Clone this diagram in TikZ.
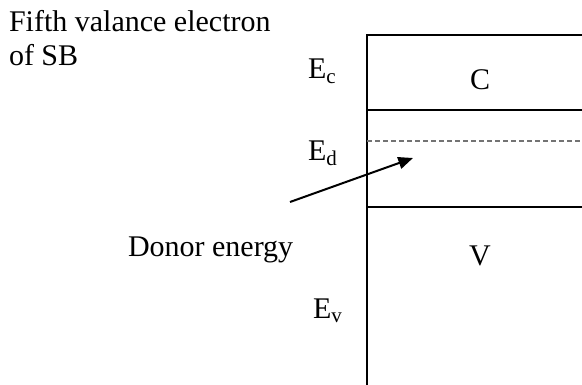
\documentclass[tikz,border=0pt]{standalone}
\usepackage{fontspec}
\setmainfont{Liberation Serif}
\usetikzlibrary{arrows.meta}
\newcommand{\bigtext}{\fontsize{22.5}{25.5}\selectfont}

\begin{document}
\begin{tikzpicture}[x=0.75pt, y=-0.75pt, >={Triangle[length=11pt,width=9pt]}, line width=1.5pt,
  label/.style={inner sep=0pt, font=\bigtext},
  level/.style={draw=gray!90!black, line width=1.1pt, dash pattern=on 4pt off 2pt}]
%
\useasboundingbox (0,0) rectangle (582,385);
%
% band diagram
\coordinate (B1) at (367,385);
\coordinate (B2) at (367,35);
\coordinate (B3) at (582,35);
\draw (B1) -- (B2) -- (B3);
\draw (367,110) -- (582,110);
\draw (367,207) -- (582,207);
\draw[level] (367,141) -- (582,141);
%
\node (C) [label] at (480,80) {C};
\node (V) [label] at (480,256) {V};
%
\node (Ec) [label, anchor=base west] at (307,79) {E\textsubscript{c}};
\node (Ed) [label, anchor=base west] at (307,160) {E\textsubscript{d}};
\node (Ev) [label, anchor=base west] at (312,318) {E\textsubscript{v}};
%
\node (fifth) [label, anchor=base west, align=left] at (8,66) {Fifth valance electron\\of SB};
\node (donor) [label, anchor=base west] at (127,256) {Donor energy};
%
\coordinate (tail) at (290,202);
\coordinate (tip) at (413,158);
\draw[->] (tail) -- (tip);
\end{tikzpicture}
\end{document}
